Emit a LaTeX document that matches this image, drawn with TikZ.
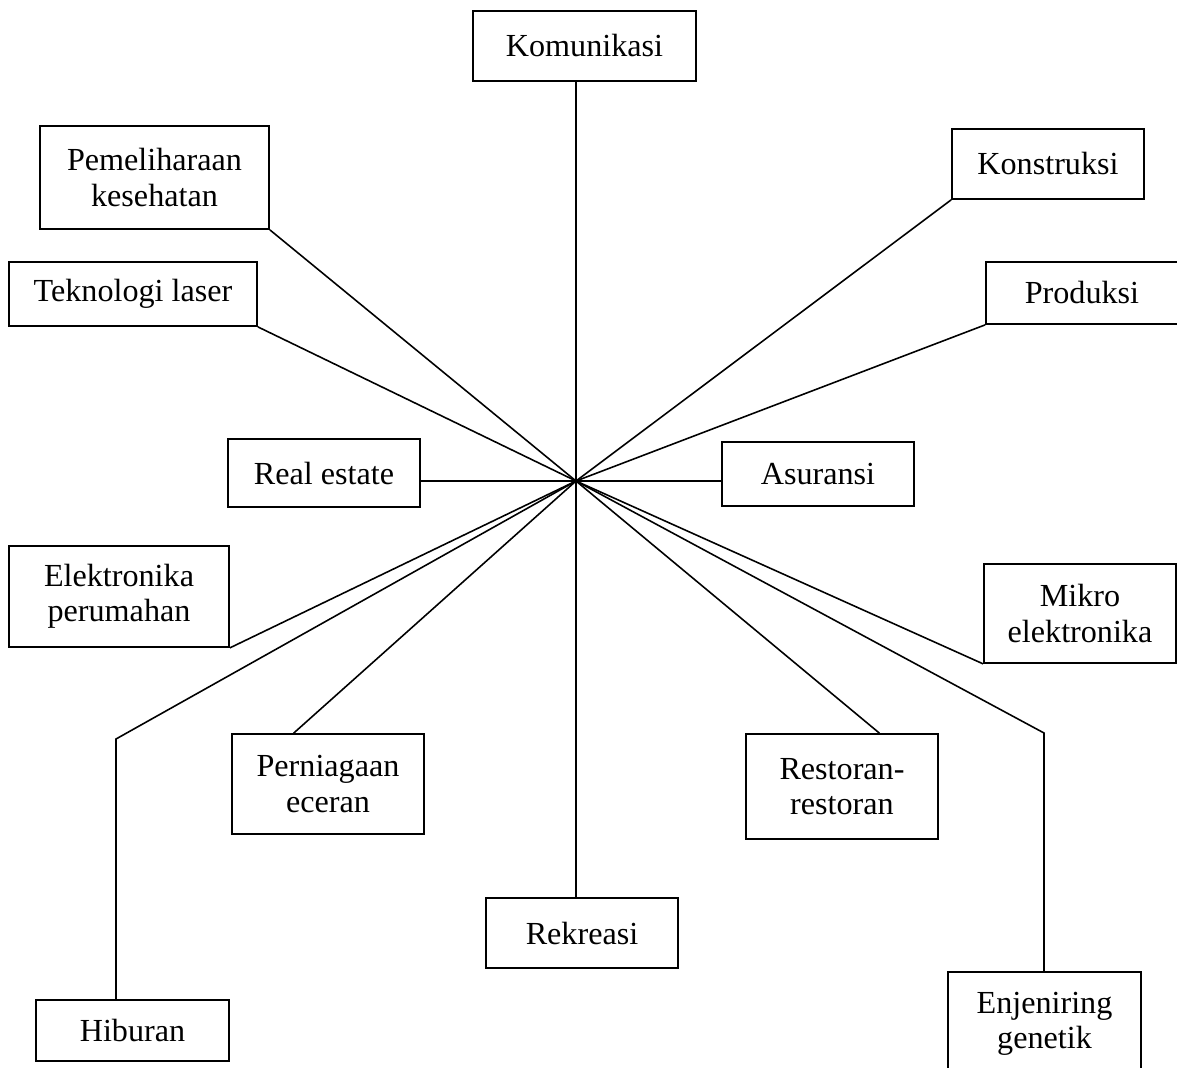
\documentclass[tikz,border=0pt]{standalone}
\usepackage{fontspec}
\setmainfont{Liberation Serif}
\usepackage{tikz}
\usetikzlibrary{calc}
\tikzset{
  bidang/.style={
    rectangle, draw=black, line width=1pt,
    inner sep=0pt, text centered, align=center,
    font=\fontsize{18.3}{20}\selectfont},
  garis/.style={line width=0.9pt, color=black},
}

\begin{document}
\begin{tikzpicture}[x=0.02cm, y=-0.02cm]

  \useasboundingbox (0,0) rectangle (1177,1068);

  \coordinate (hub) at (576,481);

  \node[bidang, minimum width=223*0.02cm, minimum height=70*0.02cm]  (km) at (584.5,46)   {Komunikasi};
  \node[bidang, minimum width=229*0.02cm, minimum height=103*0.02cm] (pm) at (154.5,177.5) {Pemeliharaan\\kesehatan};
  \node[bidang, minimum width=248*0.02cm, minimum height=64*0.02cm]  (tl) at (133,294)    {Teknologi laser};
  \node[bidang, minimum width=192*0.02cm, minimum height=70*0.02cm]  (ks) at (1048,164)   {Konstruksi};
  \node[bidang, minimum width=192*0.02cm, minimum height=62*0.02cm]  (pr) at (1082,293)   {Produksi};
  \node[bidang, minimum width=192*0.02cm, minimum height=68*0.02cm]  (re) at (324,473)    {Real estate};
  \node[bidang, minimum width=192*0.02cm, minimum height=64*0.02cm]  (as) at (818,474)    {Asuransi};
  \node[bidang, minimum width=220*0.02cm, minimum height=101*0.02cm] (ep) at (119,596.5)  {Elektronika\\perumahan};
  \node[bidang, minimum width=192*0.02cm, minimum height=99*0.02cm]  (me) at (1080,613.5) {Mikro\\elektronika};
  \node[bidang, minimum width=192*0.02cm, minimum height=100*0.02cm] (pn) at (328,784)    {Perniagaan\\eceran};
  \node[bidang, minimum width=192*0.02cm, minimum height=105*0.02cm] (rs) at (842,786.5)  {Restoran-\\restoran};
  \node[bidang, minimum width=192*0.02cm, minimum height=70*0.02cm]  (rk) at (582,933)    {Rekreasi};
  \node[bidang, minimum width=193*0.02cm, minimum height=61*0.02cm]  (hb) at (132.5,1030.5) {Hiburan};
  \node[bidang, minimum width=193*0.02cm, minimum height=103*0.02cm] (eg) at (1044.5,1023.5) {Enjeniring\\genetik};

  \coordinate (hbk) at (116,739);
  \coordinate (egk) at (1044,733);

  % jari-jari dari pusat
  \draw[garis] (hub) -- (hub |- km.south);
  \draw[garis] (hub) -- (pm.south east);
  \draw[garis] (hub) -- (tl.south east);
  \draw[garis] (hub) -- (ks.south west);
  \draw[garis] (hub) -- (pr.south west);
  \draw[garis] (hub) -- (hub -| re.east);
  \draw[garis] (hub) -- (hub -| as.west);
  \draw[garis] (hub) -- (ep.south east);
  \draw[garis] (hub) -- (me.south west);
  \draw[garis] (hub) -- (pn.124);
  \draw[garis] (hub) -- (rs.55.6);
  \draw[garis] (hub) -- (hub |- rk.north);
  \draw[garis] (hub) -- (hbk) -- (hbk |- hb.north);
  \draw[garis] (hub) -- (egk) -- (egk |- eg.north);

\end{tikzpicture}
\end{document}
